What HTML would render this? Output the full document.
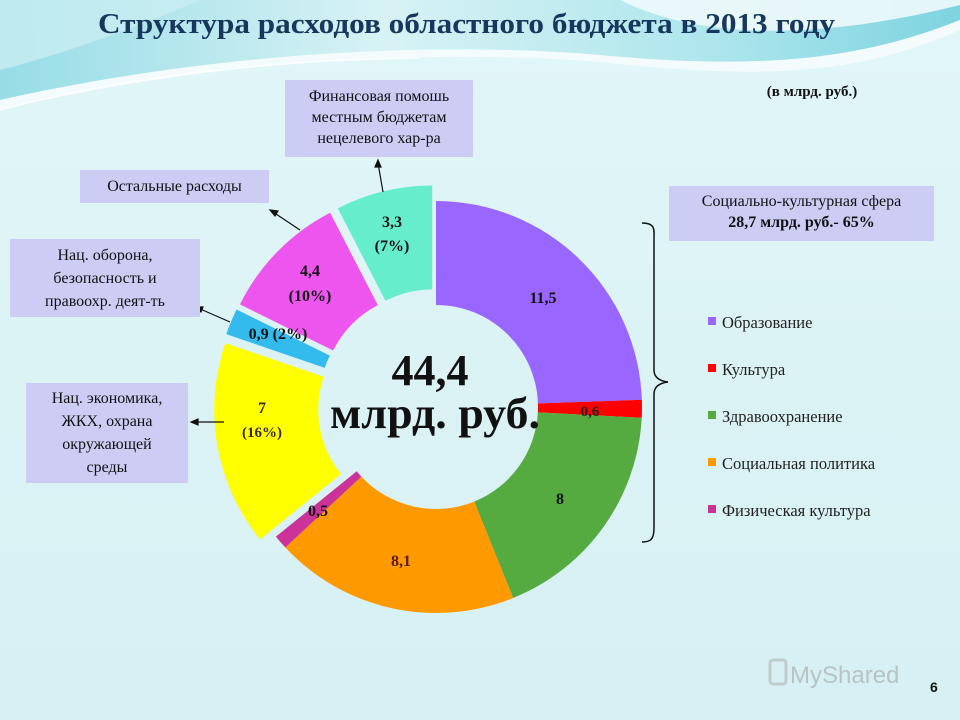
<!DOCTYPE html>
<html><head><meta charset="utf-8"><style>
body{margin:0;width:960px;height:720px;overflow:hidden;font-family:"Liberation Serif",serif;}
.box{position:absolute;background:#ccccf5;font-size:16px;text-align:center;line-height:21px;color:#111;}
</style></head><body>
<svg id="s" width="960" height="720" xmlns="http://www.w3.org/2000/svg" style="position:absolute;left:0;top:0">
<defs>
<linearGradient id="bg" x1="0" y1="0" x2="0" y2="1"><stop offset="0" stop-color="#e2f6f8"/><stop offset="1" stop-color="#d6f0f3"/></linearGradient>
<linearGradient id="top" x1="0" y1="0" x2="1" y2="0"><stop offset="0" stop-color="#7fd4e0"/><stop offset="0.4" stop-color="#d4f1f4"/><stop offset="0.75" stop-color="#9be0e8"/><stop offset="1" stop-color="#5cc8d8"/></linearGradient>
</defs>
<rect width="960" height="720" fill="url(#bg)"/>
<path d="M0,0 H960 V20 C860,60 760,70 600,55 C420,40 200,55 0,100 Z" fill="url(#top)" opacity="0.75"/>
<path d="M0,100 C200,55 420,40 600,55 C760,70 860,60 960,20 V30 C860,75 760,80 600,62 C420,48 200,62 0,110Z" fill="#ffffff" opacity="0.6"/>
<path d="M0,110 C150,70 300,60 420,58" fill="none" stroke="#ffffff" stroke-width="1.5" opacity="0.8"/>
<path d="M620,0 C700,40 820,40 960,5 V0Z" fill="#eefafb" opacity="0.9"/>
<path d="M0,0 H200 C130,30 60,55 0,70Z" fill="#c8eef3" opacity="0.8"/>
<g id="ring"></g>
<g font-family="Liberation Serif,serif" font-weight="bold" fill="#111" text-anchor="middle">
<text x="543" y="303" font-size="16">11,5</text>
<text x="590" y="416" font-size="15" fill="#222">0,6</text>
<text x="560" y="504" font-size="16">8</text>
<text x="401" y="566" font-size="16" fill="#5a1a00">8,1</text>
<text x="318" y="516" font-size="16">0,5</text>
<text x="262" y="413" font-size="16" fill="#3a2a00">7</text>
<text x="262" y="437" font-size="15" fill="#3a2a00">(16%)</text>
<text x="278" y="339" font-size="16">0,9 (2%)</text>
<text x="310" y="276" font-size="16">4,4</text>
<text x="310" y="301" font-size="16">(10%)</text>
<text x="392" y="227" font-size="16">3,3</text>
<text x="392" y="251" font-size="16">(7%)</text>
<text x="430" y="385" font-size="44">44,4</text>
<text x="435" y="428" font-size="44" textLength="210" lengthAdjust="spacingAndGlyphs">млрд. руб.</text>
</g>
<g font-family="Liberation Serif,serif" font-size="16.5" fill="#222">
<rect x="708" y="317" width="8" height="8" fill="#9966ff"/><text x="722" y="328">Образование</text>
<rect x="708" y="364" width="8" height="8" fill="#ff0000"/><text x="722" y="375">Культура</text>
<rect x="708" y="411" width="8" height="8" fill="#55aa40"/><text x="722" y="422">Здравоохранение</text>
<rect x="708" y="458" width="8" height="8" fill="#ff9900"/><text x="722" y="469">Социальная политика</text>
<rect x="708" y="505" width="8" height="8" fill="#cc3399"/><text x="722" y="516">Физическая культура</text>
</g>
<path d="M642,223 C656,223 654,230 654,240 L654,370 C654,378 660,381 668,382 C660,383 654,386 654,394 L654,528 C654,540 650,542 642,542" fill="none" stroke="#111" stroke-width="1.5"/>
<g stroke="#111" stroke-width="1.2" fill="#111">
<line x1="383" y1="192" x2="378" y2="163"/><path d="M378,160 l-3,7 h6z"/>
<line x1="300" y1="230" x2="273" y2="212"/><path d="M270,210 l8,1 -3,5z"/>
<line x1="230" y1="322" x2="198" y2="308"/><path d="M195,307 l8,0 -2,5z"/>
<line x1="224" y1="422" x2="194" y2="422"/><path d="M191,422 l7,-3 v6z"/>
</g>
<text x="98" y="33" font-family="Liberation Serif,serif" font-weight="bold" font-size="28" fill="#17375e" textLength="737" lengthAdjust="spacingAndGlyphs">Структура расходов областного бюджета в 2013 году</text>
<text x="812" y="96" text-anchor="middle" font-family="Liberation Serif,serif" font-weight="bold" font-size="15" fill="#111">(в млрд. руб.)</text>
<text x="930" y="692" font-family="Liberation Sans,sans-serif" font-weight="bold" font-size="14" fill="#111">6</text>
<text x="790" y="683" font-family="Liberation Sans,sans-serif" font-size="24" fill="#b8c4c4">MyShared</text>
<rect x="770" y="660" width="16" height="24" rx="3" fill="none" stroke="#c0cccc" stroke-width="3"/>
</svg>
<div class="box" style="left:285px;top:80px;width:188px;height:77px;padding-top:6px;box-sizing:border-box">Финансовая помошь<br>местным бюджетам<br>нецелевого хар-ра</div>
<div class="box" style="left:80px;top:170px;width:189px;height:33px;line-height:33px">Остальные расходы</div>
<div class="box" style="left:10px;top:239px;width:190px;height:78px;padding-top:5px;box-sizing:border-box;line-height:23px">Нац. оборона,<br>безопасность и<br>правоохр. деят-ть</div>
<div class="box" style="left:26px;top:383px;width:162px;height:100px;padding-top:4px;box-sizing:border-box;line-height:23px">Нац. экономика,<br>ЖКХ, охрана<br>окружающей<br>среды</div>
<div class="box" style="left:669px;top:186px;width:265px;height:55px;padding-top:5px;box-sizing:border-box">Социально-культурная сфера<br><b>28,7 млрд. руб.- 65%</b></div>
<script>
var cx=436,cy=407,R=206,r=102,g=document.getElementById('ring');
function pt(a,rad,ox,oy){var t=(a-90)*Math.PI/180;return [cx+ox+rad*Math.cos(t),cy+oy+rad*Math.sin(t)];}
var segs=[[0,88,'#9966ff',0],[88,93,'#ff0000',0],[93,158,'#55aa40',0],[158,227,'#ff9900',0],[227,231,'#cc3399',0]];
var rest=[[7,'#ffff00'],[0.9,'#33bbee'],[4.4,'#ee55ee'],[3.3,'#66eecc']];
var a=231,tot=15.6;
rest.forEach(function(s){var b=a+s[0]/tot*129;segs.push([a,b,s[1],16]);a=b;});
segs.forEach(function(s){var m=(s[0]+s[1])/2,t=(m-90)*Math.PI/180,ox=s[3]*Math.cos(t),oy=s[3]*Math.sin(t);
var p1=pt(s[0],R,ox,oy),p2=pt(s[1],R,ox,oy),p3=pt(s[1],r,ox,oy),p4=pt(s[0],r,ox,oy),l=(s[1]-s[0])>180?1:0;
var p=document.createElementNS('http://www.w3.org/2000/svg','path');
p.setAttribute('d','M'+p1+' A'+R+','+R+' 0 '+l+' 1 '+p2+' L'+p3+' A'+r+','+r+' 0 '+l+' 0 '+p4+'Z');
p.setAttribute('fill',s[2]);g.appendChild(p);});
</script>
</body></html>
